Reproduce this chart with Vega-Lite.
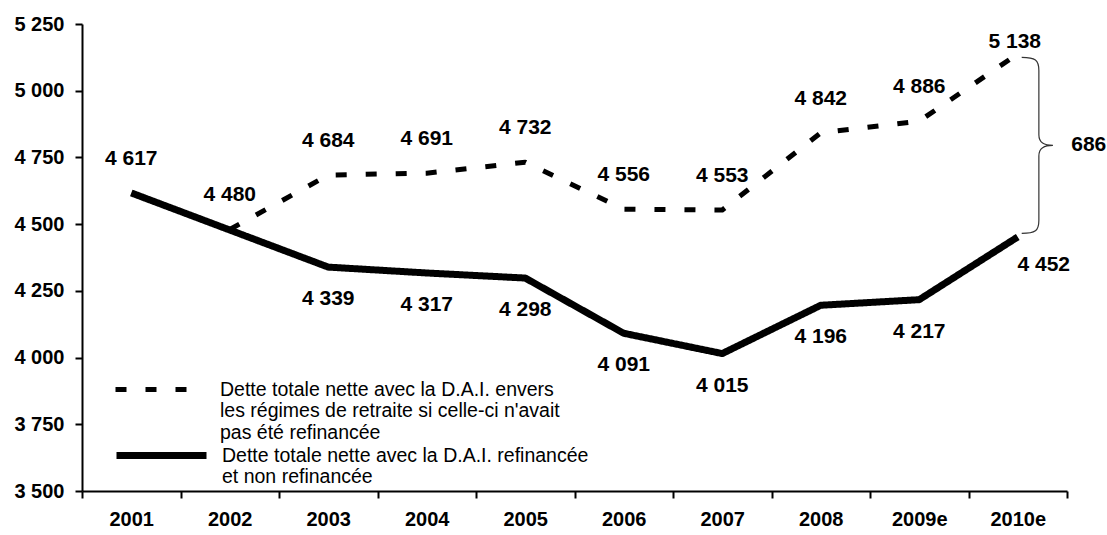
{
  "$schema": "https://vega.github.io/schema/vega-lite/v6.json",
  "width": 985,
  "height": 467,
  "autosize": {"type": "none"},
  "padding": {"left": 82, "top": 24, "right": 40, "bottom": 44},
  "background": "white",
  "config": {
    "view": {"stroke": null},
    "font": "Liberation Sans",
    "locale": {"number": {"decimal": ",", "thousands": " ", "grouping": [3], "currency": ["", " €"]}},
    "axis": {
      "labelFont": "Liberation Sans",
      "labelFontSize": 20,
      "labelFontWeight": "bold",
      "labelColor": "black",
      "domainColor": "black",
      "domainWidth": 2,
      "tickColor": "black",
      "tickWidth": 2,
      "tickSize": 7,
      "grid": false,
      "title": null
    },
    "legend": {
      "orient": "none",
      "title": null,
      "padding": 0,
      "symbolType": "stroke",
      "symbolSize": 8100,
      "symbolStrokeColor": "black",
      "labelFont": "Liberation Sans",
      "labelFontSize": 19.5,
      "labelColor": "black",
      "labelLimit": 0,
      "labelOffset": 12
    }
  },
  "datasets": {
    "series": [
      {"year": "2001", "value": 4617, "serie": "Dette totale nette avec la D.A.I. refinancée et non refinancée"},
      {"year": "2002", "value": 4478, "serie": "Dette totale nette avec la D.A.I. refinancée et non refinancée"},
      {"year": "2003", "value": 4339, "serie": "Dette totale nette avec la D.A.I. refinancée et non refinancée"},
      {"year": "2004", "value": 4317, "serie": "Dette totale nette avec la D.A.I. refinancée et non refinancée"},
      {"year": "2005", "value": 4298, "serie": "Dette totale nette avec la D.A.I. refinancée et non refinancée"},
      {"year": "2006", "value": 4091, "serie": "Dette totale nette avec la D.A.I. refinancée et non refinancée"},
      {"year": "2007", "value": 4015, "serie": "Dette totale nette avec la D.A.I. refinancée et non refinancée"},
      {"year": "2008", "value": 4196, "serie": "Dette totale nette avec la D.A.I. refinancée et non refinancée"},
      {"year": "2009e", "value": 4217, "serie": "Dette totale nette avec la D.A.I. refinancée et non refinancée"},
      {"year": "2010e", "value": 4452, "serie": "Dette totale nette avec la D.A.I. refinancée et non refinancée"},
      {"year": "2002", "value": 4480, "serie": "Dette totale nette avec la D.A.I. envers les régimes de retraite si celle-ci n'avait pas été refinancée"},
      {"year": "2003", "value": 4684, "serie": "Dette totale nette avec la D.A.I. envers les régimes de retraite si celle-ci n'avait pas été refinancée"},
      {"year": "2004", "value": 4691, "serie": "Dette totale nette avec la D.A.I. envers les régimes de retraite si celle-ci n'avait pas été refinancée"},
      {"year": "2005", "value": 4732, "serie": "Dette totale nette avec la D.A.I. envers les régimes de retraite si celle-ci n'avait pas été refinancée"},
      {"year": "2006", "value": 4556, "serie": "Dette totale nette avec la D.A.I. envers les régimes de retraite si celle-ci n'avait pas été refinancée"},
      {"year": "2007", "value": 4553, "serie": "Dette totale nette avec la D.A.I. envers les régimes de retraite si celle-ci n'avait pas été refinancée"},
      {"year": "2008", "value": 4842, "serie": "Dette totale nette avec la D.A.I. envers les régimes de retraite si celle-ci n'avait pas été refinancée"},
      {"year": "2009e", "value": 4886, "serie": "Dette totale nette avec la D.A.I. envers les régimes de retraite si celle-ci n'avait pas été refinancée"},
      {"year": "2010e", "value": 5138, "serie": "Dette totale nette avec la D.A.I. envers les régimes de retraite si celle-ci n'avait pas été refinancée"}
    ],
    "brace": [
      {"year": "2010e", "value": 4795, "label": "686"}
    ]
  },
  "encoding": {
    "x": {
      "field": "year",
      "type": "ordinal",
      "bandPosition": 0.5,
      "scale": {"type": "band", "domain": ["2001", "2002", "2003", "2004", "2005", "2006", "2007", "2008", "2009e", "2010e"], "paddingInner": 0, "paddingOuter": 0},
      "axis": {"labelAngle": 0, "tickBand": "extent", "labelPadding": 11}
    },
    "y": {
      "field": "value",
      "type": "quantitative",
      "scale": {"domain": [3500, 5250], "nice": false, "zero": false},
      "axis": {"values": [3500, 3750, 4000, 4250, 4500, 4750, 5000, 5250], "format": ",d", "labelPadding": 11}
    }
  },
  "layer": [
    {
      "data": {"name": "series"},
      "mark": {"type": "line", "color": "black", "strokeCap": "butt", "strokeJoin": "round"},
      "encoding": {
        "detail": {"field": "serie"},
        "strokeDash": {
          "field": "serie",
          "type": "nominal",
          "scale": {
            "domain": ["Dette totale nette avec la D.A.I. envers les régimes de retraite si celle-ci n'avait pas été refinancée", "Dette totale nette avec la D.A.I. refinancée et non refinancée"],
            "range": [[11, 19], [1, 0]]
          },
          "legend": {
            "values": ["Dette totale nette avec la D.A.I. envers les régimes de retraite si celle-ci n'avait pas été refinancée"],
            "legendX": 31,
            "legendY": 318,
            "symbolStrokeWidth": 5,
            "labelExpr": "['Dette totale nette avec la D.A.I. envers', \"les régimes de retraite si celle-ci n'avait\", 'pas été refinancée']"
          }
        },
        "strokeWidth": {
          "field": "serie",
          "type": "nominal",
          "scale": {
            "domain": ["Dette totale nette avec la D.A.I. refinancée et non refinancée", "Dette totale nette avec la D.A.I. envers les régimes de retraite si celle-ci n'avait pas été refinancée"],
            "range": [7, 5]
          },
          "legend": {
            "values": ["Dette totale nette avec la D.A.I. refinancée et non refinancée"],
            "legendX": 31,
            "legendY": 383,
            "labelExpr": "['Dette totale nette avec la D.A.I. refinancée', 'et non refinancée']"
          }
        }
      }
    },
    {
      "data": {"name": "series"},
      "transform": [
        {"filter": "test(/envers/, datum.serie) && datum.year != '2010e'"}
      ],
      "mark": {"type": "text", "fontSize": 21, "fontWeight": "bold", "color": "black", "dy": -34},
      "encoding": {"text": {"field": "value", "type": "quantitative", "format": ",d"}}
    },
    {
      "data": {"name": "series"},
      "transform": [
        {"filter": "test(/envers/, datum.serie) && datum.year == '2010e'"}
      ],
      "mark": {"type": "text", "fontSize": 21, "fontWeight": "bold", "color": "black", "dy": -12, "dx": -3},
      "encoding": {"text": {"field": "value", "type": "quantitative", "format": ",d"}}
    },
    {
      "data": {"name": "series"},
      "transform": [
        {"filter": "!test(/envers/, datum.serie) && datum.year != '2001' && datum.year != '2002' && datum.year != '2010e'"}
      ],
      "mark": {"type": "text", "fontSize": 21, "fontWeight": "bold", "color": "black", "dy": 32},
      "encoding": {"text": {"field": "value", "type": "quantitative", "format": ",d"}}
    },
    {
      "data": {"name": "series"},
      "transform": [
        {"filter": "!test(/envers/, datum.serie) && datum.year == '2001'"}
      ],
      "mark": {"type": "text", "fontSize": 21, "fontWeight": "bold", "color": "black", "dy": -34},
      "encoding": {"text": {"field": "value", "type": "quantitative", "format": ",d"}}
    },
    {
      "data": {"name": "series"},
      "transform": [
        {"filter": "!test(/envers/, datum.serie) && datum.year == '2010e'"}
      ],
      "mark": {"type": "text", "fontSize": 21, "fontWeight": "bold", "color": "black", "dy": 28, "dx": 26},
      "encoding": {"text": {"field": "value", "type": "quantitative", "format": ",d"}}
    },
    {
      "data": {"name": "brace"},
      "mark": {
        "type": "point",
        "shape": "M 0.045 -1 C 0.2 -1 0.24 -0.97 0.24 -0.85 L 0.24 -0.12 C 0.24 -0.03 0.3 0 0.4 0 C 0.3 0 0.24 0.03 0.24 0.12 L 0.24 0.85 C 0.24 0.97 0.2 1 0.045 1",
        "size": 30976,
        "filled": false,
        "stroke": "#333333",
        "strokeWidth": 1.2,
        "opacity": 1
      }
    },
    {
      "data": {"name": "brace"},
      "mark": {"type": "text", "fontSize": 21, "fontWeight": "bold", "color": "black", "dx": 71},
      "encoding": {"text": {"field": "label"}}
    }
  ]
}
